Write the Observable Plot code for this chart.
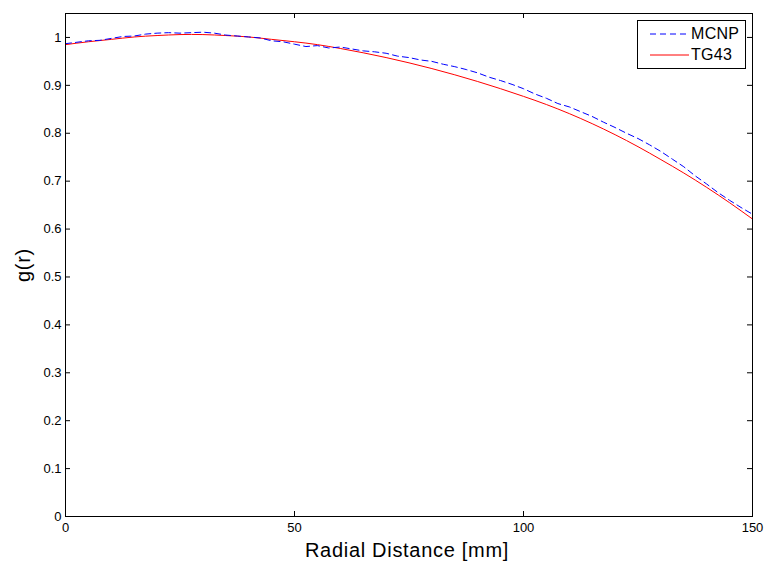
<!DOCTYPE html>
<html>
<head>
<meta charset="utf-8">
<script src="https://cdn.jsdelivr.net/npm/d3@7"></script>
<script src="https://cdn.jsdelivr.net/npm/@observablehq/plot@0.6"></script>
<style>
  html, body { margin: 0; padding: 0; background: #fff; }
  #wrap { position: relative; width: 768px; height: 563px; font-family: "Liberation Sans", Arial, sans-serif; }
  .lab { position: absolute; font-size: 20px; line-height: 24px; color: #000; white-space: nowrap; letter-spacing: 0.7px; }
  #legend { position: absolute; left: 637px; top: 20px; width: 107px; height: 47px; border: 1px solid #000; background: #fff; font-size: 16px; }
  #legend .row { position: absolute; left: 0; height: 20px; width: 107px; }
  #legend svg { position: absolute; left: 12px; top: 0; }
  #legend span { position: absolute; left: 53px; top: 1px; line-height: 18px; letter-spacing: 0.3px; }
</style>
</head>
<body>
<div id="wrap"></div>
<script>
// ---- data ----
const mcnpR = [0,2.5,5,7.5,10,12.5,15,17.5,20,22.5,25,27.5,30,32.5,35,37.5,40,42.5,45,47.5,50,52.5,55,57.5,60,62.5,65,67.5,70,72.5,75,77.5,80,82.5,85,87.5,90,92.5,95,97.5,100,102.5,105,107.5,110,112.5,115,117.5,120,122.5,125,127.5,130,132.5,135,137.5,140,142.5,145,147.5,150];
const mcnpG = [0.987,0.990,0.993,0.994,0.998,1.002,1.003,1.007,1.009,1.010,1.009,1.010,1.011,1.009,1.005,1.003,1.001,0.999,0.993,0.991,0.986,0.981,0.983,0.978,0.980,0.976,0.972,0.970,0.967,0.961,0.958,0.953,0.950,0.944,0.939,0.933,0.926,0.917,0.910,0.902,0.893,0.882,0.873,0.862,0.855,0.845,0.835,0.823,0.812,0.800,0.789,0.776,0.762,0.746,0.730,0.711,0.694,0.676,0.660,0.645,0.631];
const tg43R = [0,5,10,15,20,25,30,35,40,45,50,55,60,65,70,75,80,85,90,95,100,105,110,115,120,125,130,135,140,145,150];
const tg43G = [0.985,0.991,0.996,1.001,1.004,1.006,1.006,1.004,1.001,0.996,0.991,0.985,0.977,0.968,0.958,0.947,0.935,0.922,0.908,0.893,0.877,0.860,0.841,0.820,0.797,0.772,0.745,0.717,0.687,0.655,0.621];
const xTicks = [0, 50, 100, 150];
const yTicks = [0, 0.1, 0.2, 0.3, 0.4, 0.5, 0.6, 0.7, 0.8, 0.9, 1];
const seriesNames = ["MCNP", "TG43"];
const xLabel = "Radial Distance [mm]";
const yLabel = "g(r)";

const mcnp = mcnpR.map((r, i) => ({r, g: mcnpG[i]}));
const tg43 = tg43R.map((r, i) => ({r, g: tg43G[i]}));

const xDom = [0, 150], yDom = [0, 1.05];
const W = 768, H = 563, mL = 65, mR = 16, mT = 13, mB = 47;
const tickPx = 5;
const xTickLen = tickPx * (yDom[1] - yDom[0]) / (H - mT - mB);
const yTickLen = tickPx * (xDom[1] - xDom[0]) / (W - mL - mR);

const chart = Plot.plot({
  width: W, height: H,
  marginLeft: mL, marginRight: mR, marginTop: mT, marginBottom: mB,
  style: {fontFamily: "'Liberation Sans', Arial, sans-serif", fontSize: "13px", background: "#fff", color: "#000"},
  x: {domain: xDom},
  y: {domain: yDom},
  marks: [
    Plot.axisX({ticks: xTicks, tickSize: 0, tickPadding: 6, label: null, fontSize: 13, tickFormat: d => String(d)}),
    Plot.axisY({ticks: yTicks, tickSize: 0, tickPadding: 4, label: null, fontSize: 13, tickFormat: d => String(+d.toFixed(1))}),
    // inward ticks on all four sides
    Plot.ruleX(xTicks, {x: d => d, y1: yDom[0], y2: yDom[0] + xTickLen, stroke: "#000", strokeWidth: 1}),
    Plot.ruleX(xTicks, {x: d => d, y1: yDom[1], y2: yDom[1] - xTickLen, stroke: "#000", strokeWidth: 1}),
    Plot.ruleY(yTicks, {y: d => d, x1: xDom[0], x2: xDom[0] + yTickLen, stroke: "#000", strokeWidth: 1}),
    Plot.ruleY(yTicks, {y: d => d, x1: xDom[1], x2: xDom[1] - yTickLen, stroke: "#000", strokeWidth: 1}),
    Plot.line(tg43, {x: "r", y: "g", stroke: "#ff0000", strokeWidth: 1, curve: "natural"}),
    Plot.line(mcnp, {x: "r", y: "g", stroke: "#0000ff", strokeWidth: 1, strokeDasharray: "6,4"}),
    Plot.frame({stroke: "#000", strokeWidth: 1})
  ]
});

const wrap = document.getElementById("wrap");
wrap.appendChild(chart);

const xl = document.createElement("div");
xl.className = "lab"; xl.textContent = xLabel;
xl.style.left = "407px"; xl.style.top = "538px";
xl.style.transform = "translateX(-50%)";
wrap.appendChild(xl);

const yl = document.createElement("div");
yl.className = "lab"; yl.textContent = yLabel;
yl.style.left = "23px"; yl.style.top = "265px";
yl.style.transform = "translate(-50%, -50%) rotate(-90deg)";
wrap.appendChild(yl);

const leg = document.createElement("div");
leg.id = "legend";
const styles = [{c: "#0000ff", d: "6,4"}, {c: "#ff0000", d: null}];
seriesNames.forEach((n, i) => {
  const row = document.createElement("div");
  row.className = "row"; row.style.top = (3 + i * 21) + "px";
  row.innerHTML = `<svg width="40" height="20"><line x1="0" x2="39" y1="10" y2="10" stroke="${styles[i].c}" stroke-width="1" ${styles[i].d ? `stroke-dasharray="${styles[i].d}"` : ""}/></svg><span>${n}</span>`;
  leg.appendChild(row);
});
wrap.appendChild(leg);
</script>
</body>
</html>
